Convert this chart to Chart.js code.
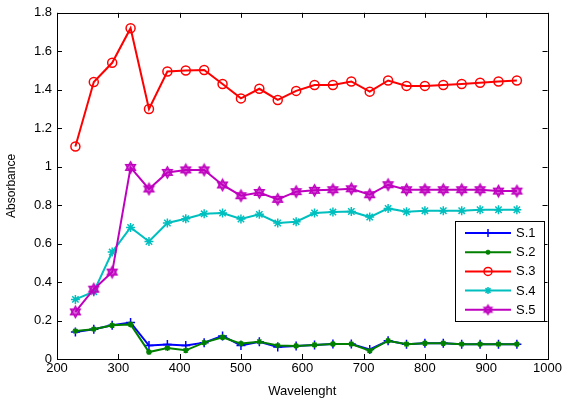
<!DOCTYPE html>
<html>
<head>
<meta charset="utf-8">
<script src="https://cdn.jsdelivr.net/npm/chart.js@4"></script>
<style>
  html, body { margin: 0; padding: 0; background: #fff; }
  #wrap { width: 564px; height: 403px; }
</style>
</head>
<body>
<div id="wrap"><canvas id="absChart" width="564" height="403"></canvas></div>
<script>
// wavelengths (nm)
const wavelengths = [230,260,290,320,350,380,410,440,470,500,530,560,590,620,650,680,710,740,770,800,830,860,890,920,950];

const s1 = [0.14,0.155,0.175,0.19,0.07,0.075,0.07,0.085,0.12,0.07,0.09,0.062,0.068,0.073,0.078,0.078,0.05,0.095,0.077,0.082,0.082,0.077,0.077,0.077,0.077];
const s2 = [0.145,0.155,0.175,0.18,0.036,0.057,0.045,0.085,0.113,0.08,0.09,0.07,0.068,0.073,0.078,0.078,0.043,0.095,0.077,0.082,0.082,0.077,0.077,0.077,0.077];
const s3 = [1.105,1.44,1.54,1.72,1.30,1.495,1.50,1.503,1.43,1.355,1.405,1.347,1.394,1.425,1.425,1.443,1.39,1.448,1.42,1.42,1.425,1.43,1.436,1.443,1.448];
const s4 = [0.31,0.35,0.556,0.684,0.611,0.707,0.729,0.755,0.759,0.728,0.752,0.707,0.714,0.759,0.764,0.767,0.738,0.783,0.766,0.771,0.771,0.771,0.776,0.776,0.776];
const s5 = [0.245,0.363,0.452,0.996,0.884,0.970,0.983,0.983,0.905,0.849,0.866,0.830,0.870,0.877,0.880,0.885,0.854,0.906,0.880,0.880,0.880,0.880,0.880,0.873,0.873];

const seriesNames = ['S.1','S.2','S.3','S.4','S.5'];
const seriesData = [s1, s2, s3, s4, s5];
const colors = ['#0000ff','#008000','#ff0000','#00bfbf','#bf00bf'];

const xTicks = [200,300,400,500,600,700,800,900,1000];
const yTicks = [0,0.2,0.4,0.6,0.8,1,1.2,1.4,1.6,1.8];

const FONT = '"Liberation Sans", Arial, sans-serif';

// hexagram marker for S.5
function hexagram(color, r){
    const size = Math.ceil(r*2 + 3);
    const c = document.createElement('canvas');
    c.width = size; c.height = size;
    const g = c.getContext('2d');
    g.strokeStyle = color;
    g.fillStyle = 'rgba(191,0,191,0.35)';
    g.lineWidth = 1.4;
    const cx = size/2, cy = size/2;
    [ -Math.PI/2, Math.PI/2 ].forEach(function(a0){
        g.beginPath();
        for(let i=0;i<3;i++){
            const a = a0 + i*2*Math.PI/3;
            const px = cx + r*Math.cos(a), py = cy + r*Math.sin(a);
            if(i===0) g.moveTo(px,py); else g.lineTo(px,py);
        }
        g.closePath();
        g.fill();
        g.stroke();
    });
    return c;
}

const markers = ['cross','star','circle','star', hexagram(colors[4], 5.6)];
const legendMarkers = ['cross','star','circle','star', hexagram(colors[4], 4.6)];
const radii = [4.5,3,4.5,4.5,6];
const legendRadii = [4,2.5,4,3.5,5];

const datasets = seriesNames.map(function(name, i){
    return {
        label: name,
        data: wavelengths.map(function(w, k){ return {x: w, y: seriesData[i][k]}; }),
        borderColor: colors[i],
        backgroundColor: 'rgba(0,0,0,0)',
        pointBorderColor: colors[i],
        pointBackgroundColor: 'rgba(0,0,0,0)',
        borderWidth: 2,
        pointStyle: markers[i],
        pointRadius: radii[i],
        pointBorderWidth: 1.5,
        tension: 0,
        fill: false,
        order: 5 - i
    };
});

// axes box with inward ticks, like the original figure
const boxPlugin = {
    id: 'boxPlugin',
    afterDraw(chart){
        const ctx = chart.ctx, a = chart.chartArea;
        const xs = chart.scales.x, ys = chart.scales.y;
        ctx.save();
        ctx.strokeStyle = '#000';
        ctx.lineWidth = 1;
        ctx.strokeRect(Math.round(a.left)+0.5, Math.round(a.top)+0.5, Math.round(a.right-a.left), Math.round(a.bottom-a.top));
        const len = 5;
        ctx.beginPath();
        xTicks.forEach(function(v){
            const px = Math.round(xs.getPixelForValue(v)) + 0.5;
            ctx.moveTo(px, a.bottom); ctx.lineTo(px, a.bottom - len);
            ctx.moveTo(px, a.top); ctx.lineTo(px, a.top + len);
        });
        yTicks.forEach(function(v){
            const py = Math.round(ys.getPixelForValue(v)) + 0.5;
            ctx.moveTo(a.left, py); ctx.lineTo(a.left + len, py);
            ctx.moveTo(a.right, py); ctx.lineTo(a.right - len, py);
        });
        ctx.stroke();

        // legend box
        const lx = 455.5, ly = 221.5, lw = 89, lh = 100;
        ctx.fillStyle = '#fff';
        ctx.fillRect(lx, ly, lw, lh);
        ctx.strokeRect(lx, ly, lw, lh);
        ctx.font = '13px ' + FONT;
        ctx.textBaseline = 'middle';
        chart.data.datasets.forEach(function(ds, i){
            const y = 233 + i*19.2;
            ctx.strokeStyle = ds.borderColor;
            ctx.lineWidth = 2;
            ctx.beginPath();
            ctx.moveTo(465, y); ctx.lineTo(511, y);
            ctx.stroke();
            const st = legendMarkers[i];
            if (typeof st === 'string') {
                ctx.lineWidth = 1.5;
                ctx.fillStyle = 'rgba(0,0,0,0)';
                Chart.helpers.drawPoint(ctx, {pointStyle: st, radius: legendRadii[i], borderWidth: 1.5, rotation: 0}, 488, y);
            } else {
                ctx.drawImage(st, 488 - st.width/2, y - st.height/2);
            }
            ctx.fillStyle = '#000';
            ctx.fillText(ds.label, 516, y + 0.5);
        });
        ctx.restore();
    }
};

new Chart(document.getElementById('absChart'), {
    type: 'line',
    data: { datasets: datasets },
    options: {
        responsive: false,
        animation: false,
        layout: { padding: { top: 12, right: 15, left: 0, bottom: 0 } },
        plugins: { legend: { display: false }, tooltip: { enabled: false } },
        scales: {
            x: {
                type: 'linear',
                min: 200, max: 1000,
                afterBuildTicks(scale){ scale.ticks = xTicks.map(function(v){ return {value: v}; }); },
                afterFit(scale){ scale.height = 44; },
                grid: { display: false, drawTicks: false },
                border: { display: false },
                ticks: {
                    color: '#000', padding: 2, maxRotation: 0,
                    font: { family: FONT, size: 13 },
                    callback: function(v){ return String(v); }
                },
                title: { display: true, text: 'Wavelenght', color: '#000', padding: { top: 1 }, font: { family: FONT, size: 13 } }
            },
            y: {
                min: 0, max: 1.8,
                afterBuildTicks(scale){ scale.ticks = yTicks.map(function(v){ return {value: v}; }); },
                afterFit(scale){ scale.width = 57; },
                grid: { display: false, drawTicks: false },
                border: { display: false },
                ticks: {
                    color: '#000', padding: 5,
                    font: { family: FONT, size: 13 },
                    callback: function(v){ return String(Number(v.toFixed(1))); }
                },
                title: { display: true, text: 'Absorbance', color: '#000', padding: { bottom: 0 }, font: { family: FONT, size: 12 } }
            }
        }
    },
    plugins: [boxPlugin]
});
</script>
</body>
</html>
